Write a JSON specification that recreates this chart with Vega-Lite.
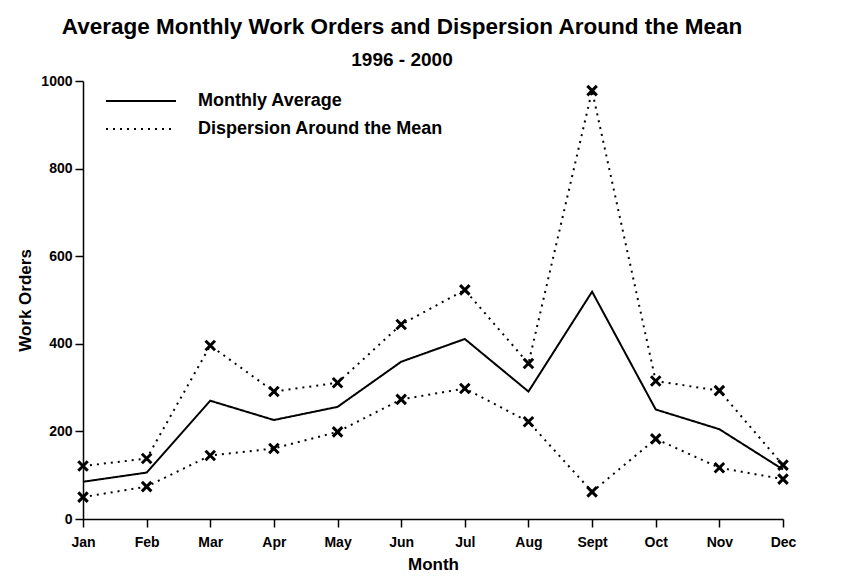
{
  "$schema": "https://vega.github.io/schema/vega-lite/v6.json",
  "width": 700,
  "height": 438,
  "autosize": {"type": "none"},
  "padding": {"left": 83, "top": 81, "right": 61, "bottom": 57},
  "background": "white",
  "title": {
    "text": "Average Monthly Work Orders and Dispersion Around the Mean",
    "subtitle": "1996 - 2000",
    "font": "Liberation Sans",
    "fontSize": 22.5,
    "fontWeight": "bold",
    "color": "black",
    "subtitleFont": "Liberation Sans",
    "subtitleFontSize": 19,
    "subtitleFontWeight": "bold",
    "subtitleColor": "black",
    "subtitlePadding": 12,
    "anchor": "middle",
    "dx": -31,
    "offset": 4.5
  },
  "data": {
    "values": [
      {"month": "Jan", "series": "Monthly Average", "band": "mean", "value": 85},
      {"month": "Feb", "series": "Monthly Average", "band": "mean", "value": 106},
      {"month": "Mar", "series": "Monthly Average", "band": "mean", "value": 270},
      {"month": "Apr", "series": "Monthly Average", "band": "mean", "value": 226},
      {"month": "May", "series": "Monthly Average", "band": "mean", "value": 256},
      {"month": "Jun", "series": "Monthly Average", "band": "mean", "value": 359},
      {"month": "Jul", "series": "Monthly Average", "band": "mean", "value": 411},
      {"month": "Aug", "series": "Monthly Average", "band": "mean", "value": 291},
      {"month": "Sept", "series": "Monthly Average", "band": "mean", "value": 519},
      {"month": "Oct", "series": "Monthly Average", "band": "mean", "value": 250},
      {"month": "Nov", "series": "Monthly Average", "band": "mean", "value": 205},
      {"month": "Dec", "series": "Monthly Average", "band": "mean", "value": 113},
      {"month": "Jan", "series": "Dispersion Around the Mean", "band": "upper", "value": 121},
      {"month": "Feb", "series": "Dispersion Around the Mean", "band": "upper", "value": 138},
      {"month": "Mar", "series": "Dispersion Around the Mean", "band": "upper", "value": 396},
      {"month": "Apr", "series": "Dispersion Around the Mean", "band": "upper", "value": 291},
      {"month": "May", "series": "Dispersion Around the Mean", "band": "upper", "value": 311},
      {"month": "Jun", "series": "Dispersion Around the Mean", "band": "upper", "value": 444},
      {"month": "Jul", "series": "Dispersion Around the Mean", "band": "upper", "value": 523},
      {"month": "Aug", "series": "Dispersion Around the Mean", "band": "upper", "value": 355},
      {"month": "Sept", "series": "Dispersion Around the Mean", "band": "upper", "value": 978},
      {"month": "Oct", "series": "Dispersion Around the Mean", "band": "upper", "value": 315},
      {"month": "Nov", "series": "Dispersion Around the Mean", "band": "upper", "value": 293},
      {"month": "Dec", "series": "Dispersion Around the Mean", "band": "upper", "value": 123},
      {"month": "Jan", "series": "Dispersion Around the Mean", "band": "lower", "value": 50},
      {"month": "Feb", "series": "Dispersion Around the Mean", "band": "lower", "value": 74},
      {"month": "Mar", "series": "Dispersion Around the Mean", "band": "lower", "value": 145},
      {"month": "Apr", "series": "Dispersion Around the Mean", "band": "lower", "value": 161},
      {"month": "May", "series": "Dispersion Around the Mean", "band": "lower", "value": 199},
      {"month": "Jun", "series": "Dispersion Around the Mean", "band": "lower", "value": 273},
      {"month": "Jul", "series": "Dispersion Around the Mean", "band": "lower", "value": 298},
      {"month": "Aug", "series": "Dispersion Around the Mean", "band": "lower", "value": 222},
      {"month": "Sept", "series": "Dispersion Around the Mean", "band": "lower", "value": 62},
      {"month": "Oct", "series": "Dispersion Around the Mean", "band": "lower", "value": 183},
      {"month": "Nov", "series": "Dispersion Around the Mean", "band": "lower", "value": 117},
      {"month": "Dec", "series": "Dispersion Around the Mean", "band": "lower", "value": 91}
    ]
  },
  "encoding": {
    "x": {
      "field": "month",
      "type": "ordinal",
      "sort": ["Jan", "Feb", "Mar", "Apr", "May", "Jun", "Jul", "Aug", "Sept", "Oct", "Nov", "Dec"],
      "scale": {"type": "point", "padding": 0},
      "axis": {
        "title": "Month",
        "labelAngle": 0,
        "labelPadding": 8,
        "titlePadding": 7
      }
    },
    "y": {
      "field": "value",
      "type": "quantitative",
      "scale": {"domain": [0, 1000], "nice": false},
      "axis": {
        "title": "Work Orders",
        "values": [0, 200, 400, 600, 800, 1000],
        "format": "d",
        "labelPadding": 3,
        "titlePadding": 6,
        "grid": false
      }
    }
  },
  "layer": [
    {
      "mark": {"type": "line", "color": "black", "strokeWidth": 2},
      "encoding": {
        "detail": {"field": "band"},
        "strokeDash": {
          "field": "series",
          "type": "nominal",
          "scale": {
            "domain": ["Monthly Average", "Dispersion Around the Mean"],
            "range": [[1, 0], [2, 5]]
          },
          "legend": {
            "title": null,
            "orient": "none",
            "legendX": 22,
            "legendY": 9,
            "padding": 0,
            "symbolType": "stroke",
            "symbolSize": 4900,
            "symbolStrokeColor": "black",
            "symbolStrokeWidth": 2,
            "labelFont": "Liberation Sans",
            "labelFontSize": 18,
            "labelFontWeight": "bold",
            "labelColor": "black",
            "labelOffset": 21,
            "clipHeight": 22,
            "rowPadding": 6,
            "labelLimit": 400
          }
        }
      }
    },
    {
      "transform": [{"filter": "datum.band !== 'mean'"}],
      "mark": {
        "type": "point",
        "shape": "M-1,-1L1,1M1,-1L-1,1",
        "size": 90,
        "filled": false,
        "stroke": "black",
        "strokeWidth": 3,
        "opacity": 1
      },
      "encoding": {
        "detail": {"field": "band"}
      }
    }
  ],
  "config": {
    "view": {"stroke": null},
    "axis": {
      "domainColor": "black",
      "domainWidth": 1.5,
      "tickColor": "black",
      "tickWidth": 1.5,
      "tickSize": 8,
      "labelFont": "Liberation Sans",
      "labelFontSize": 14,
      "labelFontWeight": "bold",
      "labelColor": "black",
      "titleFont": "Liberation Sans",
      "titleFontSize": 17,
      "titleFontWeight": "bold",
      "titleColor": "black"
    }
  }
}
